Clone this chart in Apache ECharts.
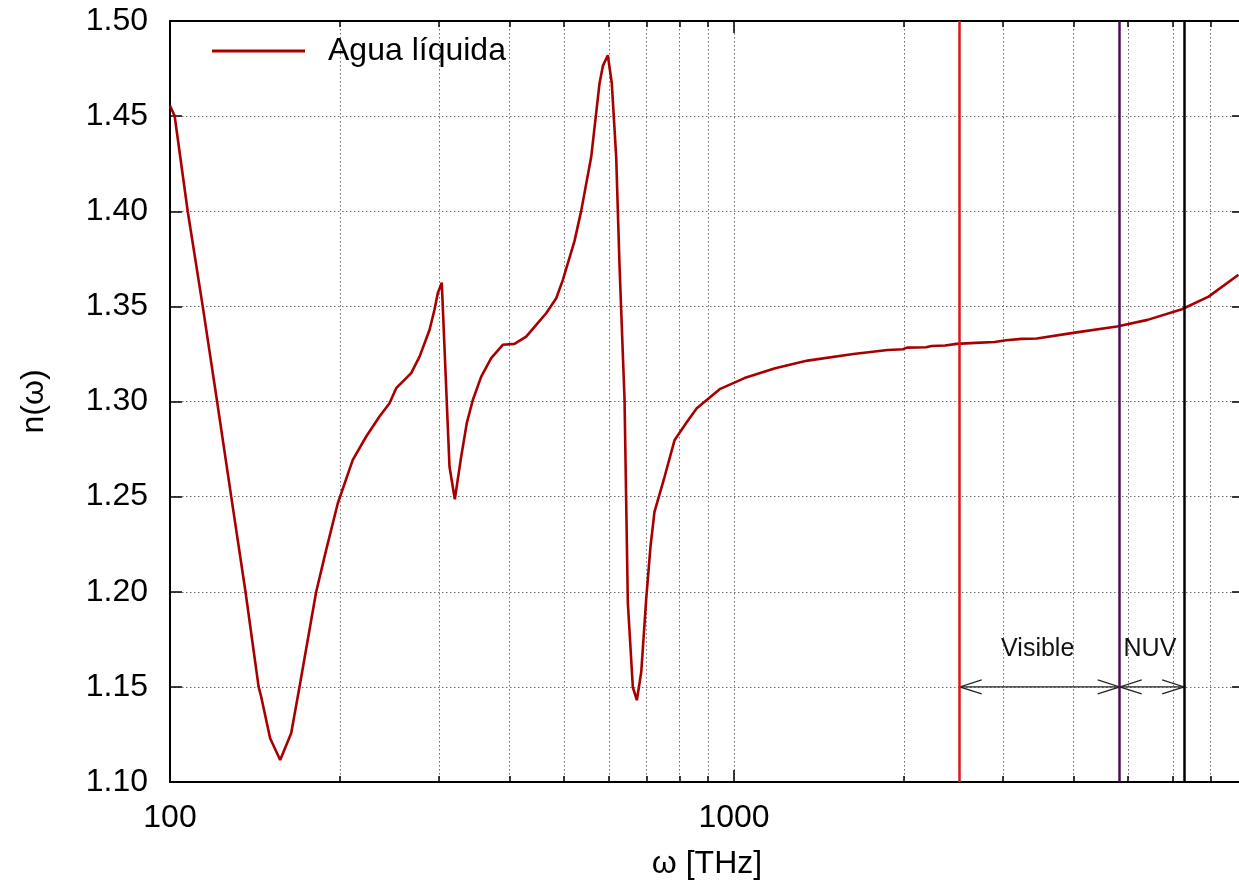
<!DOCTYPE html>
<html>
<head>
<meta charset="utf-8">
<script src="https://cdn.jsdelivr.net/npm/echarts@6/dist/echarts.min.js"></script>
<style>html,body{margin:0;padding:0;background:#fff}#c{width:1239px;height:886px}</style>
</head>
<body>
<div id="c"></div>
<script>
// ---- data ----
const omega = [100, 101.9, 107.5, 114.3, 121.2, 128.4, 136.1, 143.6, 145.1, 150.5, 156.8, 164.0, 169.7, 181.6, 189.2, 198.4, 210.9, 222.8, 235.2, 245.0, 251.8, 267.7, 277.0, 288.5, 294.4, 298.4, 303.3, 313.0, 319.9, 328.3, 335.9, 344.3, 356.3, 371.1, 389.1, 408.1, 428.1, 446.0, 464.5, 484.0, 497.1, 521.4, 535.9, 558.3, 577.6, 585.5, 597.4, 607.2, 618.2, 626.6, 639.6, 648.3, 661.7, 672.6, 684.8, 698.9, 711.2, 722.8, 753.0, 784.4, 822.7, 859.0, 943.3, 1043.8, 1183, 1350.6, 1628, 1874, 1994, 2026, 2190, 2241, 2368, 2481, 2682, 2899, 3038, 3235, 3443, 4022, 4776, 5411, 6226, 6942, 7844];
const nIndex = [1.4554, 1.4502, 1.40, 1.35, 1.30, 1.25, 1.20, 1.15, 1.1448, 1.1230, 1.1116, 1.1256, 1.1501, 1.1999, 1.2220, 1.2465, 1.2693, 1.2816, 1.2921, 1.2991, 1.3070, 1.3149, 1.3236, 1.3376, 1.3482, 1.3569, 1.3625, 1.2658, 1.2486, 1.2710, 1.2886, 1.3008, 1.3131, 1.3228, 1.3298, 1.3303, 1.3341, 1.3403, 1.3464, 1.3543, 1.3638, 1.3843, 1.4002, 1.4286, 1.4673, 1.4764, 1.4820, 1.4673, 1.4286, 1.3718, 1.3012, 1.1942, 1.1498, 1.1430, 1.1578, 1.1965, 1.2238, 1.2420, 1.2603, 1.2796, 1.2887, 1.2965, 1.3065, 1.3123, 1.3175, 1.3215, 1.3250, 1.3271, 1.3275, 1.3283, 1.3285, 1.3292, 1.3294, 1.3303, 1.3308, 1.3313, 1.3322, 1.3329, 1.3331, 1.3362, 1.3394, 1.3429, 1.3485, 1.3551, 1.3666];
const seriesName = 'Agua líquida';
const xTickValues = [100, 200, 300, 400, 500, 600, 700, 800, 900, 1000, 2000, 3000, 4000, 5000, 6000, 7000];
const xMajorValues = [100, 1000];
const xLabelValues = [100, 1000];
const xMin = 100, xMax = 8022;
const yMin = 1.10, yMax = 1.50, yStep = 0.05;
const vLineValues = [2513, 4830, 6283];
const vLineColors = ['#e0161c', '#4a0c5c', '#000000'];
const arrowRanges = [[2513, 4830], [4830, 6283]];
const arrowLabels = ['Visible', 'NUV'];
const arrowLevel = 1.15;

// ---- chart ----
const FONT = '"Liberation Sans", Arial, Helvetica, sans-serif';
const chart = echarts.init(document.getElementById('c'), null, {renderer: 'canvas'});
const gridStyle = {color: '#6e6e6e', width: 1, type: [1.5, 2.5]};
const axisLineStyle = {color: '#000', width: 2};
const CURVE = '#a80000';

function xAxisDef(pos, ticks, len, showLabel, showSplit) {
  return {
    type: 'log', logBase: 10, position: pos, min: xMin, max: xMax,
    axisLine: {show: true, lineStyle: axisLineStyle},
    axisTick: {show: true, inside: true, length: len, customValues: ticks, lineStyle: {color: '#000', width: 1.5}},
    axisLabel: {show: showLabel, customValues: xLabelValues, fontSize: 32, fontFamily: FONT, color: '#000', margin: 20,
                formatter: v => String(Math.round(v))},
    splitLine: {show: showSplit, lineStyle: gridStyle},
    minorTick: {show: false}, minorSplitLine: {show: false}
  };
}

const option = {
  animation: false,
  backgroundColor: '#fff',
  grid: {left: 170, top: 21, width: 1074, height: 761, containLabel: false, outerBoundsMode: 'none'},
  legend: {
    data: [{name: seriesName, icon: 'rect'}], left: 212, top: 35, padding: 0, itemWidth: 93, itemHeight: 3,
    itemStyle: {color: CURVE},
    textStyle: {fontSize: 32, fontFamily: FONT, color: '#000', padding: [0, 0, 0, 18]}
  },
  xAxis: [
    Object.assign(xAxisDef('bottom', xTickValues, 6, true, true), {
      name: 'ω [THz]', nameLocation: 'middle', nameGap: 66,
      nameTextStyle: {fontSize: 32, fontFamily: FONT, color: '#000'}
    }),
    xAxisDef('top', xTickValues, 6, false, false),
    xAxisDef('bottom', xMajorValues, 12, false, false),
    xAxisDef('top', xMajorValues, 12, false, false)
  ],
  yAxis: [
    {
      type: 'value', position: 'left', min: yMin, max: yMax, interval: yStep,
      name: 'n(ω)', nameLocation: 'middle', nameGap: 120, nameRotate: 90,
      nameTextStyle: {fontSize: 32, fontFamily: FONT, color: '#000'},
      axisLine: {show: true, lineStyle: axisLineStyle},
      axisTick: {show: true, inside: true, length: 12, lineStyle: {color: '#000', width: 1.5}},
      axisLabel: {fontSize: 32, fontFamily: FONT, color: '#000', margin: 22, formatter: v => v.toFixed(2)},
      splitLine: {show: true, lineStyle: gridStyle}
    },
    {
      type: 'value', position: 'right', min: yMin, max: yMax, interval: yStep,
      axisLine: {show: true, lineStyle: axisLineStyle},
      axisTick: {show: true, inside: true, length: 12, lineStyle: {color: '#000', width: 1.5}},
      axisLabel: {show: false},
      splitLine: {show: false}
    }
  ],
  series: [
    {
      name: seriesName, type: 'line', xAxisIndex: 0, yAxisIndex: 0,
      data: omega.map((x, i) => [x, nIndex[i]]),
      showSymbol: false, symbol: 'none', smooth: false,
      lineStyle: {color: CURVE, width: 2.6}, itemStyle: {color: CURVE},
      z: 3,
      markLine: {
        silent: true, symbol: ['none', 'none'], label: {show: false},
        animation: false,
        data: vLineValues.map((v, i) => ({xAxis: v, lineStyle: {color: vLineColors[i], width: 2.5, type: 'solid'}}))
      }
    },
    {
      name: 'ranges', type: 'custom', xAxisIndex: 0, yAxisIndex: 0,
      data: arrowRanges.map(r => [r[0], r[1], arrowLevel]),
      encode: {x: [0, 1], y: 2},
      silent: true, z: 4,
      renderItem: function (params, api) {
        const a = api.coord([api.value(0), api.value(2)]);
        const b = api.coord([api.value(1), api.value(2)]);
        const L = 22, H = 7;
        const st = {stroke: '#222', lineWidth: 1.2, fill: null};
        return {
          type: 'group',
          children: [
            {type: 'line', shape: {x1: a[0], y1: a[1], x2: b[0], y2: b[1]}, style: st},
            {type: 'polyline', shape: {points: [[a[0] + L, a[1] - H], [a[0], a[1]], [a[0] + L, a[1] + H]]}, style: st},
            {type: 'polyline', shape: {points: [[b[0] - L, b[1] - H], [b[0], b[1]], [b[0] - L, b[1] + H]]}, style: st},
            {type: 'text', x: (a[0] + b[0]) / 2 - 2, y: a[1] - 38,
             style: {text: arrowLabels[params.dataIndex], fontSize: 25, fontFamily: FONT, fill: '#111', align: 'center', verticalAlign: 'middle'}}
          ]
        };
      }
    }
  ]
};
chart.setOption(option);
</script>
</body>
</html>
